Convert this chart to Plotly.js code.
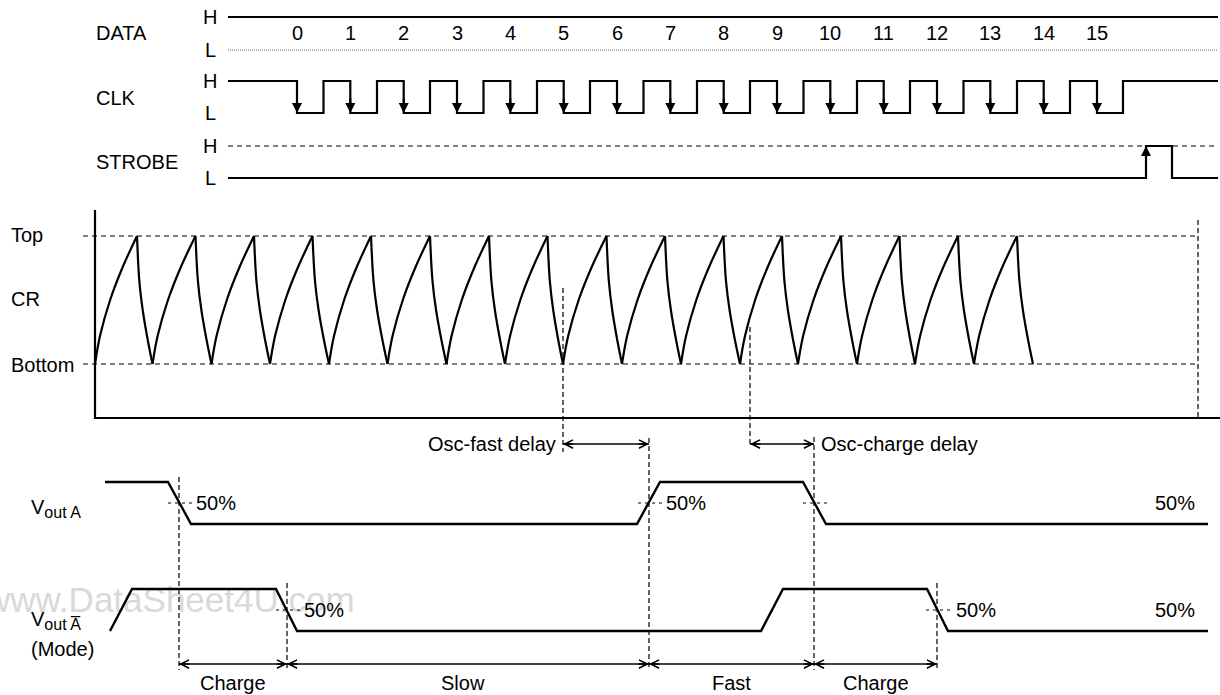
<!DOCTYPE html>
<html><head><meta charset="utf-8">
<script src="https://cdn.plot.ly/plotly-3.0.1.min.js"></script>
<style>html,body{margin:0;padding:0;background:#fff;} #chart{width:1220px;height:695px;}</style>
</head><body><div id="chart"></div>
<script>
// ================= DATA (time axis in diagram units, levels logical) =================
const dataBitLabels = ['0','1','2','3','4','5','6','7','8','9','10','11','12','13','14','15'];
const clkFallTimes = [297, 350.3, 403.7, 457, 510.3, 563.7, 617, 670.3, 723.7, 777, 830.3, 883.7, 937, 990.3, 1043.7, 1097];
const clkRiseTimes = [323.5, 377, 430, 483.5, 537, 590, 643.5, 697, 750, 803.5, 857, 910, 963.5, 1017, 1070, 1123];
const strobeRiseTimes = [1146];
const strobeFallTimes = [1172];
const signalSpan = [228, 1218];

const crStartTime = 95;
const crPeakTimes = [137, 195.5, 254, 312.5, 371, 430, 489, 547.5, 606.5, 665, 723.5, 782, 841, 899.5, 958, 1017];
const crValleyTimes = [152.5, 211.5, 270, 329, 387.5, 446.5, 505, 563, 622, 681, 740, 798, 857, 915, 974, 1033];
// shape of one ramp: [time fraction, level fraction]
const crRiseProfile = [[0,0],[0.12,0.22],[0.36,0.5],[0.65,0.75],[1,1]];
const crFallProfile = [[0,0],[0.15,0.35],[0.37,0.58],[0.69,0.81],[1,1]];
const crEndTime = 1198;

const voutATimes  = [105, 168, 191, 637, 660, 803, 826, 1208];
const voutALevels = [1, 1, 0, 0, 1, 1, 0, 0];
const voutBTimes  = [110, 132, 276, 297, 761, 783, 927, 948, 1208];
const voutBLevels = [0, 1, 1, 0, 0, 1, 1, 0, 0];

const phaseBounds = [179, 287, 649, 814, 937];
const phaseLabels = ['Charge', 'Slow', 'Fast', 'Charge'];
const delayLabels = ['Osc-fast delay', 'Osc-charge delay'];
const delayBounds = [[563, 649], [750, 814]];
const fiftyA = [179, 649, 814];
const fiftyB = [287, 937];

// ================= STYLE / LAYOUT POSITIONS =================
const FONT = 'Liberation Sans, Arial, sans-serif';
const FS = 20;
const ROW = {
  data: {H: 17, L: 50}, clk: {H: 81, L: 113}, strobe: {H: 146, L: 178},
  cr: {top: 236, bottom: 364, axTop: 210, axBottom: 418, left: 95, dashStart: 83, right: 1220},
  va: {H: 482, L: 524}, vb: {H: 589, L: 631},
  delayY: 444, phaseY: 664, phaseTextY: 683
};
const LW = 2.2;

const traces = [];
const shapes = [];
const ann = [];

// watermark (behind everything)
traces.push({x: [-15], y: [603], mode: 'text', text: ['www.DataSheet4U.com'], textposition: 'middle right',
  textfont: {family: FONT, size: 35, color: '#d9d9d9'}, hoverinfo: 'skip'});

function line(xs, ys, w, extra) {
  traces.push(Object.assign({x: xs, y: ys, mode: 'lines', line: {color: '#000', width: w || LW}, hoverinfo: 'skip'}, extra || {}));
}
function hdash(x0, x1, y, dash, color, w) {
  shapes.push({type: 'line', xref: 'x', yref: 'y', x0: x0, x1: x1, y0: y, y1: y, layer: 'above',
    line: {color: color || '#000', width: w || 1, dash: dash || '5px,4px'}});
}
function vdash(x, y0, y1) {
  shapes.push({type: 'line', xref: 'x', yref: 'y', x0: x, x1: x, y0: y0, y1: y1, layer: 'above',
    line: {color: '#000', width: 1.2, dash: '5px,3px'}});
}
function head(x, y, ax, ay, kind, size, width) {
  ann.push({x: x, y: y, ax: ax, ay: ay, xref: 'x', yref: 'y', axref: 'x', ayref: 'y', text: '',
    showarrow: true, arrowhead: kind, arrowsize: size, arrowwidth: width, arrowcolor: '#000', standoff: 0});
}
function label(text, x, y, xanchor, size) {
  ann.push({x: x, y: y, xref: 'x', yref: 'y', text: text, showarrow: false, xanchor: xanchor || 'left', yanchor: 'middle',
    font: {family: FONT, size: size || FS, color: '#000'}});
}
function dblArrow(x0, x1, y) {
  line([x0, x1], [y, y], 1.3);
  head(x0, y, x0 + 12, y, 5, 1.25, 1.3);
  head(x1, y, x1 - 12, y, 5, 1.25, 1.3);
}

// ---- DATA ----
line(signalSpan, [ROW.data.H, ROW.data.H]);
hdash(signalSpan[0], signalSpan[1], ROW.data.L, '1px,1px', '#666', 1);
dataBitLabels.forEach((t, i) => label(t, clkFallTimes[i], 33, 'center'));

// ---- CLK ----
(function () {
  const xs = [signalSpan[0]], ys = [ROW.clk.H];
  clkFallTimes.forEach((f, i) => {
    xs.push(f, f, clkRiseTimes[i], clkRiseTimes[i]);
    ys.push(ROW.clk.H, ROW.clk.L, ROW.clk.L, ROW.clk.H);
    head(f, ROW.clk.L, f, ROW.clk.L - 16, 2, 1, 2);
  });
  xs.push(signalSpan[1]); ys.push(ROW.clk.H);
  line(xs, ys);
})();

// ---- STROBE ----
hdash(signalSpan[0], signalSpan[1], ROW.strobe.H, '5px,4px', '#000', 1);
line([signalSpan[0], strobeRiseTimes[0], strobeRiseTimes[0], strobeFallTimes[0], strobeFallTimes[0], signalSpan[1]],
     [ROW.strobe.L, ROW.strobe.L, ROW.strobe.H, ROW.strobe.H, ROW.strobe.L, ROW.strobe.L]);
head(strobeRiseTimes[0], ROW.strobe.H, strobeRiseTimes[0], ROW.strobe.H + 16, 2, 1, 2);

// row labels
[['DATA', 33, ROW.data], ['CLK', 98, ROW.clk], ['STROBE', 162, ROW.strobe]].forEach(r => {
  label(r[0], 94, r[1], 'left');
  label('H', 210, r[2].H, 'center');
  label('L', 210, r[2].L, 'center');
});

// ---- CR ----
line([ROW.cr.left, ROW.cr.left, ROW.cr.right], [ROW.cr.axTop, ROW.cr.axBottom, ROW.cr.axBottom], 2.2);
hdash(ROW.cr.dashStart, crEndTime, ROW.cr.top);
hdash(ROW.cr.dashStart, crEndTime, ROW.cr.bottom);
(function () {
  const xs = [], ys = [];
  const T = ROW.cr.top, B = ROW.cr.bottom;
  function seg(x0, x1, yA, yB, prof) {
    prof.forEach(p => { xs.push(x0 + (x1 - x0) * p[0]); ys.push(yA + (yB - yA) * p[1]); });
    xs.push(null); ys.push(null);
  }
  seg(crStartTime, crPeakTimes[0], B, T, crRiseProfile);
  crPeakTimes.forEach((p, i) => {
    seg(p, crValleyTimes[i], T, B, crFallProfile);
    if (i + 1 < crPeakTimes.length) seg(crValleyTimes[i], crPeakTimes[i + 1], B, T, crRiseProfile);
  });
  traces.push({x: xs, y: ys, mode: 'lines', connectgaps: false, line: {color: '#000', width: 2.2, shape: 'spline', smoothing: 1}, hoverinfo: 'skip'});
})();
label('Top', 9, 235, 'left');
label('CR', 9, 299, 'left');
label('Bottom', 9, 365, 'left');

// marker verticals
vdash(delayBounds[0][0], 288, 452);
vdash(delayBounds[1][0], 327, 447);
vdash(crEndTime, 220, ROW.cr.axBottom);
vdash(phaseBounds[0], 477, 670);
vdash(phaseBounds[1], 583, 670);
vdash(phaseBounds[2], 438, 670);
vdash(phaseBounds[3], 437, 670);
vdash(phaseBounds[4], 583, 670);

// delays
delayBounds.forEach(d => dblArrow(d[0], d[1], ROW.delayY));
label(delayLabels[0], delayBounds[0][0] - 5, ROW.delayY, 'right');
label(delayLabels[1], delayBounds[1][1] + 5, ROW.delayY, 'left');

// ---- Vout A / Vout A-bar ----
line(voutATimes, voutALevels.map(v => v ? ROW.va.H : ROW.va.L), 2.4);
line(voutBTimes, voutBLevels.map(v => v ? ROW.vb.H : ROW.vb.L), 2.4);
const midA = (ROW.va.H + ROW.va.L) / 2, midB = (ROW.vb.H + ROW.vb.L) / 2;
fiftyA.forEach(x => hdash(x - 11, x + 13, midA, '3px,4px'));
fiftyB.forEach(x => hdash(x - 11, x + 13, midB, '3px,4px'));
label('50%', fiftyA[0] + 15, midA, 'left');
label('50%', fiftyA[1] + 15, midA, 'left');
label('50%', 1197, midA, 'right');
label('50%', fiftyB[0] + 15, midB, 'left');
label('50%', fiftyB[1] + 17, midB, 'left');
label('50%', 1197, midB, 'right');
const SUB = "<sub><span style='font-size:16px'>";
label('V' + SUB + 'out A</span></sub>', 29, 508, 'left');
label('V' + SUB + 'out A\u0305</span></sub>', 29, 620, 'left');
label('(Mode)', 29, 649, 'left');

// phases
phaseLabels.forEach((t, i) => {
  dblArrow(phaseBounds[i], phaseBounds[i + 1], ROW.phaseY);
  label(t, (phaseBounds[i] + phaseBounds[i + 1]) / 2 + (i === 1 ? -5 : 0), ROW.phaseTextY, 'center');
});

const layout = {
  width: 1220, height: 695, margin: {l: 0, r: 0, t: 0, b: 0},
  paper_bgcolor: '#fff', plot_bgcolor: '#fff', showlegend: false,
  xaxis: {range: [0, 1220], visible: false, fixedrange: true},
  yaxis: {range: [695, 0], visible: false, fixedrange: true},
  shapes: shapes, annotations: ann, hovermode: false
};
Plotly.newPlot('chart', traces, layout, {displayModeBar: false, staticPlot: true});
</script></body></html>
